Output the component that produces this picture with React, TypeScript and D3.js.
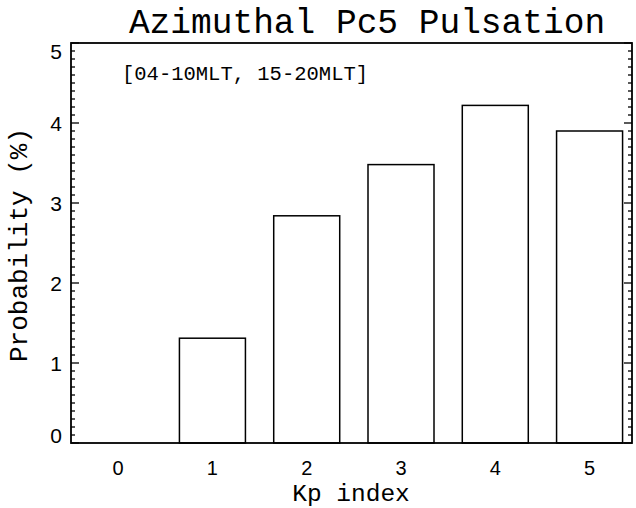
import React from "react";
import * as d3 from "d3";

const kpCategories = [0, 1, 2, 3, 4, 5];
const probabilities = [0, 1.31, 2.84, 3.48, 4.22, 3.9];
const yTicks = [0, 1, 2, 3, 4, 5];
const titleText = "Azimuthal Pc5 Pulsation";
const annotationText = "[04-10MLT, 15-20MLT]";
const xLabel = "Kp index";
const yLabel = "Probability (%)";

const W = 636;
const H = 508;
const left = 71;
const right = 632;
const top = 43;
const bottom = 443;

export default function App() {
  const x = d3.scaleLinear().domain([-0.5, 5.45]).range([left, right]);
  const y = d3.scaleLinear().domain([0, 5]).range([bottom, top]);
  const barW = x(0.35) - x(-0.35);
  const minor = d3.range(0, 5.0001, 0.1).map((v) => Math.round(v * 10) / 10);
  const mono = "'Liberation Mono', 'DejaVu Sans Mono', monospace";
  const sans = "'Liberation Sans', Arial, sans-serif";

  return (
    <svg
      width={W}
      height={H}
      style={{ position: "absolute", left: 0, top: 0, background: "#fff" }}
    >
      <rect x={0} y={0} width={W} height={H} fill="#fff" />
      <text
        x={367}
        y={33}
        textAnchor="middle"
        fontFamily={mono}
        fontSize={34.5}
        fill="#000"
      >
        {titleText}
      </text>

      {kpCategories.map((k, i) =>
        probabilities[i] > 0 ? (
          <rect
            key={"b" + k}
            x={x(k) - barW / 2}
            y={y(probabilities[i])}
            width={barW}
            height={y(0) - y(probabilities[i])}
            fill="none"
            stroke="#000"
            strokeWidth={1.5}
          />
        ) : null
      )}

      {minor.map((v) => {
        const major = Math.abs(v - Math.round(v)) < 1e-6;
        const len = major ? 8 : 4;
        return (
          <g key={"t" + v}>
            <line x1={left} x2={left + len} y1={y(v)} y2={y(v)} stroke="#000" strokeWidth={1.3} />
            <line x1={right} x2={right - len} y1={y(v)} y2={y(v)} stroke="#000" strokeWidth={1.3} />
          </g>
        );
      })}

      <rect
        x={left}
        y={top}
        width={right - left}
        height={bottom - top}
        fill="none"
        stroke="#000"
        strokeWidth={1.8}
      />

      {yTicks.map((v) => {
        const cy = Math.min(Math.max(y(v), top + 8), bottom - 8);
        return (
          <text
            key={"yl" + v}
            x={62}
            y={cy}
            dy="0.36em"
            textAnchor="end"
            fontFamily={sans}
            fontSize={21}
            fill="#000"
          >
            {v}
          </text>
        );
      })}

      {kpCategories.map((k) => (
        <text
          key={"xl" + k}
          x={x(k)}
          y={475}
          textAnchor="middle"
          fontFamily={sans}
          fontSize={20}
          fill="#000"
        >
          {k}
        </text>
      ))}

      <text x={351} y={501} textAnchor="middle" fontFamily={mono} fontSize={24.5} fill="#000">
        {xLabel}
      </text>
      <text
        transform={`translate(27, ${245}) rotate(-90)`}
        textAnchor="middle"
        fontFamily={mono}
        fontSize={26}
        fill="#000"
      >
        {yLabel}
      </text>
      <text x={122} y={80} fontFamily={mono} fontSize={20.5} fill="#000">
        {annotationText}
      </text>
    </svg>
  );
}
